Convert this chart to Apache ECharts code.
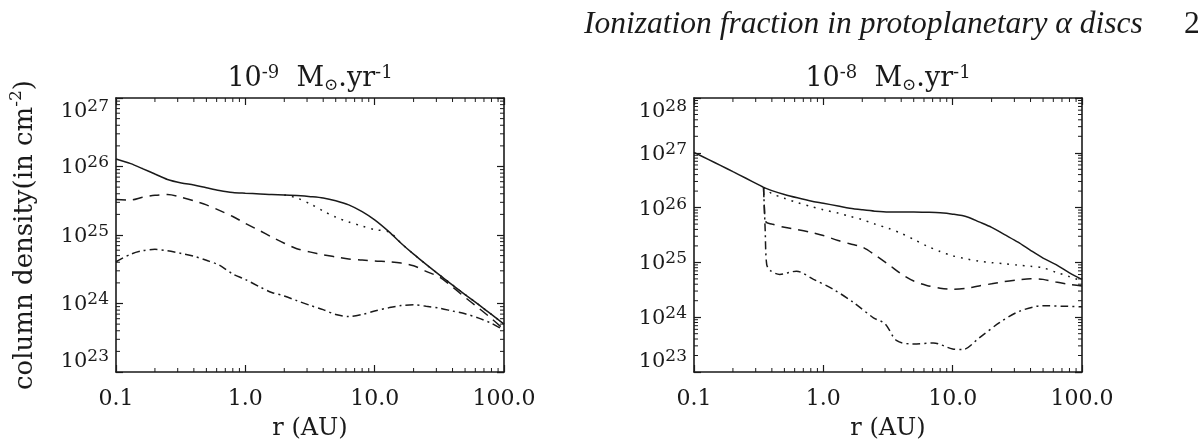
<!DOCTYPE html>
<html>
<head>
<meta charset="utf-8">
<title>Column density, protoplanetary alpha discs</title>
<script src="https://cdn.jsdelivr.net/npm/echarts@6/dist/echarts.min.js"></script>
<style>
  html, body { margin: 0; padding: 0; background: #fff; }
  #chart { width: 1198px; height: 446px; }
</style>
</head>
<body>
<div id="chart"></div>
<script>
// values (r in AU, column density in cm^-2)

// left panel: 1e-9 Msun/yr
const leftR = [0.1, 0.13, 0.16, 0.2, 0.25, 0.32, 0.4, 0.5, 0.63, 0.8, 1.0, 1.3, 1.6, 2.0, 2.5, 3.2, 4.0, 5.0, 6.3, 8.0, 10, 13, 16, 20, 25, 32, 40, 50, 63, 80, 100]
const leftSolid = [1.29e26, 1.10e26, 9.33e25, 7.76e25, 6.46e25, 5.75e25, 5.37e25, 4.90e25, 4.47e25, 4.17e25, 4.07e25, 3.98e25, 3.89e25, 3.85e25, 3.76e25, 3.63e25, 3.47e25, 3.16e25, 2.75e25, 2.19e25, 1.66e25, 1.10e25, 7.59e24, 5.25e24, 3.72e24, 2.57e24, 1.86e24, 1.35e24, 9.77e23, 6.92e23, 5.01e23]
const leftDashed = [3.31e25, 3.24e25, 3.55e25, 3.80e25, 3.89e25, 3.55e25, 3.16e25, 2.75e25, 2.29e25, 1.86e25, 1.48e25, 1.15e25, 9.33e24, 7.59e24, 6.31e24, 5.62e24, 5.13e24, 4.79e24, 4.47e24, 4.32e24, 4.17e24, 4.07e24, 3.89e24, 3.55e24, 2.95e24, 2.40e24, 1.74e24, 1.23e24, 8.71e23, 6.03e23, 4.17e23]
const leftDashDot = [4.07e24, 5.25e24, 5.89e24, 6.17e24, 5.89e24, 5.37e24, 4.90e24, 4.27e24, 3.63e24, 2.69e24, 2.24e24, 1.74e24, 1.45e24, 1.29e24, 1.10e24, 9.33e23, 8.13e23, 6.92e23, 6.46e23, 6.92e23, 7.76e23, 8.71e23, 9.33e23, 9.55e23, 9.12e23, 8.51e23, 7.76e23, 7.08e23, 6.17e23, 5.13e23, 4.07e23]
const leftDottedR = [2.0, 2.5, 3.2, 4.0, 5.0, 6.3, 8.0, 10, 13, 16, 20, 25, 32, 40, 50, 63, 80, 100]
const leftDotted = [3.85e25, 3.47e25, 2.82e25, 2.24e25, 1.82e25, 1.55e25, 1.35e25, 1.20e25, 1.10e25, 7.59e24, 5.25e24, 3.72e24, 2.57e24, 1.86e24, 1.35e24, 9.77e23, 6.92e23, 5.01e23]

// right panel: 1e-8 Msun/yr
const rightR = [0.1, 0.13, 0.16, 0.2, 0.25, 0.32, 0.345, 0.4, 0.5, 0.63, 0.8, 1.0, 1.3, 1.6, 2.0, 2.5, 3.2, 4.0, 5.0, 6.3, 8.0, 10, 13, 16, 20, 25, 32, 40, 50, 63, 80, 100]
const rightSolid = [1.02e27, 7.50e26, 5.89e26, 4.52e26, 3.47e26, 2.57e26, 2.34e26, 2.04e26, 1.74e26, 1.51e26, 1.32e26, 1.20e26, 1.07e26, 9.77e25, 9.12e25, 8.61e25, 8.32e25, 8.32e25, 8.32e25, 8.22e25, 8.04e25, 7.59e25, 6.76e25, 5.50e25, 4.37e25, 3.24e25, 2.34e25, 1.66e25, 1.20e25, 9.12e24, 6.46e24, 4.90e24]
const rightDottedR = [0.345, 0.4, 0.5, 0.63, 0.8, 1.0, 1.3, 1.6, 2.0, 2.5, 3.2, 4.0, 5.0, 6.3, 8.0, 10, 13, 16, 20, 25, 32, 40, 50, 63, 80, 100]
const rightDotted = [2.34e26, 1.80e26, 1.48e26, 1.23e26, 1.05e26, 9.12e25, 7.94e25, 6.92e25, 6.03e25, 5.01e25, 4.17e25, 3.39e25, 2.63e25, 2.00e25, 1.58e25, 1.32e25, 1.15e25, 1.05e25, 9.89e24, 9.44e24, 8.91e24, 8.51e24, 7.94e24, 6.61e24, 5.50e24, 4.57e24]
const rightDashedR = [0.345, 0.35, 0.36, 0.4, 0.5, 0.63, 0.8, 1.0, 1.3, 1.6, 2.0, 2.5, 3.2, 4.0, 5.0, 6.3, 8.0, 10, 13, 16, 20, 25, 32, 40, 50, 63, 80, 100]
const rightDashed = [2.34e26, 1.00e26, 5.50e25, 5.01e25, 4.37e25, 3.98e25, 3.55e25, 3.09e25, 2.51e25, 2.19e25, 1.91e25, 1.38e25, 9.12e24, 6.17e24, 4.57e24, 3.80e24, 3.39e24, 3.24e24, 3.39e24, 3.72e24, 4.07e24, 4.47e24, 4.79e24, 5.01e24, 4.90e24, 4.37e24, 3.98e24, 3.72e24]
const rightDashDotR = [0.345, 0.355, 0.365, 0.39, 0.46, 0.62, 0.84, 1.19, 1.71, 2.44, 3.0, 3.7, 5.0, 7.1, 10, 12, 16, 23, 33, 50, 76, 100]
const rightDashDot = [2.34e26, 3.98e25, 9.12e24, 7.08e24, 6.03e24, 6.92e24, 4.90e24, 3.24e24, 1.86e24, 9.77e23, 7.59e23, 3.72e23, 3.24e23, 3.39e23, 2.63e23, 2.57e23, 4.17e23, 7.94e23, 1.29e24, 1.62e24, 1.58e24, 1.55e24]

// tick labels
const xTickLabels = ['0.1', '1.0', '10.0', '100.0']
const minorSteps = [2, 3, 4, 5, 6, 7, 8, 9]

const ink = '#1a1a1a'
const serif = 'DejaVu Serif'

const chart = echarts.init(document.getElementById('chart'), null, { renderer: 'canvas' })

const yRich = {
  b: { fontFamily: serif, fontSize: 21, color: ink, lineHeight: 24, verticalAlign: 'bottom' },
  s: { fontFamily: serif, fontSize: 17, color: ink, lineHeight: 19, padding: [0, 0, 12, 0], verticalAlign: 'top' }
}

const frameLine = { show: true, onZero: false, lineStyle: { color: ink, width: 1.6 } }
const majorTick = { show: true, inside: true, length: 7, lineStyle: { color: ink, width: 1.2 } }

function xAxes(gi) {
  const base = { type: 'log', logBase: 10, gridIndex: gi, min: 0.1, max: 100, splitNumber: 3,
    axisLine: frameLine, axisTick: majorTick, splitLine: { show: false } }
  return [
    Object.assign({}, base, {
      position: 'bottom',
      axisLabel: { margin: 16, fontFamily: serif, fontSize: 22, color: ink, showMinLabel: true, showMaxLabel: true, hideOverlap: false,
        formatter: v => xTickLabels[Math.round(Math.log10(v)) + 1] },
      name: 'r (AU)', nameLocation: 'middle', nameGap: 45,
      nameTextStyle: { fontFamily: serif, fontSize: 24, color: ink }
    }),
    Object.assign({}, base, { position: 'top', axisLabel: { show: false } })
  ]
}

function yAxes(gi, lo, hi, withName) {
  const base = { type: 'log', logBase: 10, gridIndex: gi, min: lo, max: hi, splitNumber: Math.round(Math.log10(hi / lo)),
    axisLine: frameLine, axisTick: majorTick, splitLine: { show: false } }
  const left = Object.assign({}, base, {
    position: 'left',
    axisLabel: { margin: 7, showMinLabel: true, showMaxLabel: true, hideOverlap: false, rich: yRich,
      verticalAlignMinLabel: 'bottom', verticalAlignMaxLabel: 'top',
      formatter: v => '{b|10}{s|' + Math.round(Math.log10(v)) + '}' }
  })
  if (withName) {
    Object.assign(left, {
      name: '{t|column density(in cm}{u|-2}{t|)}', nameLocation: 'middle', nameRotate: 90, nameGap: 78,
      nameTextStyle: { rich: {
        t: { fontFamily: serif, fontSize: 26, color: ink, lineHeight: 30, verticalAlign: 'bottom' },
        u: { fontFamily: serif, fontSize: 17, color: ink, lineHeight: 19, padding: [0, 0, 13, 0], verticalAlign: 'top' }
      } }
    })
  }
  return [left, Object.assign({}, base, { position: 'right', axisLabel: { show: false } })]
}

function decadeMinors(e0, e1) {
  const out = []
  for (let e = e0; e < e1; e++) minorSteps.forEach(m => out.push(m * Math.pow(10, e)))
  return out
}

function seg(x1, y1, x2, y2) {
  return { type: 'line', shape: { x1, y1, x2, y2 }, style: { stroke: ink, lineWidth: 1 } }
}

// minor log ticks on all four sides, placed through the axes' own scales
function minorTickSeries(xi, yi, yLo, yHi) {
  const xm = decadeMinors(-1, 2)
  const ym = decadeMinors(Math.round(Math.log10(yLo)), Math.round(Math.log10(yHi)))
  return {
    type: 'custom', xAxisIndex: xi, yAxisIndex: yi, silent: true, clip: false, z: 5,
    data: [[1, yLo]],
    renderItem: (params, api) => {
      const kids = []
      const L = 4
      xm.forEach(v => {
        const b = api.coord([v, yLo]), t = api.coord([v, yHi])
        kids.push(seg(b[0], b[1], b[0], b[1] - L), seg(t[0], t[1], t[0], t[1] + L))
      })
      ym.forEach(v => {
        const l = api.coord([0.1, v]), r = api.coord([100, v])
        kids.push(seg(l[0], l[1], l[0] + L, l[1]), seg(r[0], r[1], r[0] - L, r[1]))
      })
      return { type: 'group', children: kids }
    }
  }
}

function curve(xs, ys, dash, xi, yi) {
  return {
    type: 'line', xAxisIndex: xi, yAxisIndex: yi, silent: true,
    data: xs.map((x, i) => [x, ys[i]]),
    showSymbol: false, symbol: 'none', smooth: 0.3,
    lineStyle: { color: ink, width: 1.5, type: dash }
  }
}

const SOLID = 'solid'
const DOTTED = [1.8, 6]
const DASHED = [10, 7]
const DASHDOT = [8, 4, 2, 4]

const titleRich = {
  b: { fontFamily: serif, fontSize: 27, fill: ink, lineHeight: 30, verticalAlign: 'middle' },
  s: { fontFamily: serif, fontSize: 18, fill: ink, lineHeight: 20, padding: [0, 0, 20, 0], verticalAlign: 'top' },
  o: { fontFamily: serif, fontSize: 17, fill: ink, lineHeight: 19, padding: [21, 0, 0, 0], verticalAlign: 'bottom' }
}

function panelTitle(cx, exp) {
  return {
    type: 'text', x: cx, y: 79,
    style: { text: '{b|10}{s|' + exp + '}{b|  M}{o|⊙}{b|.yr}{s|-1}', rich: titleRich, align: 'center', verticalAlign: 'middle' }
  }
}

const option = {
  animation: false,
  backgroundColor: '#fff',
  grid: [
    { left: 116, top: 98, width: 388, height: 276 },
    { left: 694, top: 98, width: 388, height: 276 }
  ],
  xAxis: xAxes(0).concat(xAxes(1)),
  yAxis: yAxes(0, 1e23, 1e27, true).concat(yAxes(1, 1e23, 1e28, false)),
  graphic: [
    { type: 'text', x: 584, y: 9,
      style: { text: 'Ionization fraction in protoplanetary α discs', fontFamily: 'Liberation Serif', fontStyle: 'italic', fontSize: 31.5, fill: ink } },
    { type: 'text', x: 1184, y: 9,
      style: { text: '2', fontFamily: 'Liberation Serif', fontSize: 31.5, fill: ink } },
    panelTitle(310, '-9'),
    panelTitle(888, '-8')
  ],
  series: [
    minorTickSeries(0, 0, 1e23, 1e27),
    minorTickSeries(2, 2, 1e23, 1e28),
    curve(leftR, leftSolid, SOLID, 0, 0),
    curve(leftDottedR, leftDotted, DOTTED, 0, 0),
    curve(leftR, leftDashed, DASHED, 0, 0),
    curve(leftR, leftDashDot, DASHDOT, 0, 0),
    curve(rightR, rightSolid, SOLID, 2, 2),
    curve(rightDottedR, rightDotted, DOTTED, 2, 2),
    curve(rightDashedR, rightDashed, DASHED, 2, 2),
    curve(rightDashDotR, rightDashDot, DASHDOT, 2, 2)
  ]
}

chart.setOption(option)
window.addEventListener('resize', () => chart.resize())
</script>
</body>
</html>
